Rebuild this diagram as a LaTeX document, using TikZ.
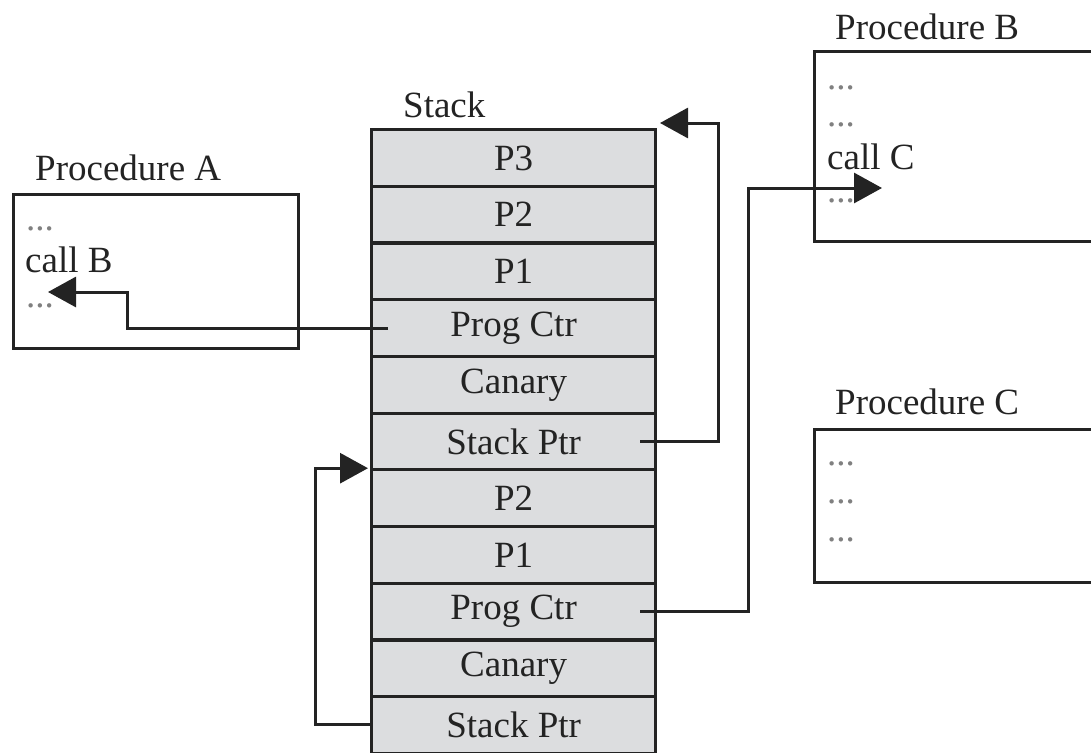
\documentclass[tikz,border=0pt]{standalone}
\usepackage{fontspec}
\newfontfamily\figserif{Liberation Serif}
\usetikzlibrary{arrows.meta,calc}
\definecolor{stackgray}{RGB}{220,221,223}
\definecolor{ink}{RGB}{35,35,35}
\begin{document}
\begin{tikzpicture}[x=1pt,y=-1pt,
  every node/.style={font=\figserif\fontsize{37}{41}\selectfont, text=ink, inner sep=0pt},
  cell/.style={draw=ink, line width=3.2pt, fill=stackgray, minimum width=284pt, minimum height=56.7pt, anchor=north west},
  procbox/.style={draw=ink, line width=3.2pt, fill=white, anchor=north west},
  lbl/.style={anchor=west},
  dots/.style={anchor=west, text=gray},
  arr/.style={draw=ink, line width=3pt, -{Triangle[length=28pt,width=30pt]}}
]
\useasboundingbox (0,0) rectangle (1091,752);
\clip (0,0) rectangle (1091,752);
% stack
\node[lbl] (stacklbl) at (403,105) {Stack};
\foreach \i/\t in {1/P3,2/P2,3/P1,4/Prog Ctr,5/Canary,6/Stack Ptr,7/P2,8/P1,9/Prog Ctr,10/Canary,11/Stack Ptr}{
  \node[cell] (r\i) at (370,{128+(\i-1)*56.7}) {\t};
}
% procedure A
\node[lbl] (plA) at (35,168) {Procedure A};
\node[procbox, minimum width=285pt, minimum height=154pt] (procA) at (12,193) {};
\node[dots] (a1) at (26,229) {...};
\node[lbl] (a2) at (25,260) {call B};
\node[dots] (a3) at (26,306) {...};
% procedure B
\node[lbl] (plB) at (835,27) {Procedure B};
\node[procbox, minimum width=300pt, minimum height=190pt] (procB) at (813,50) {};
\node[dots] (b1) at (827,88) {...};
\node[dots] (b2) at (827,125) {...};
\node[lbl] (b3) at (827,157) {call C};
\node[dots] (b4) at (827,201) {...};
% procedure C
\node[lbl] (plC) at (835,402) {Procedure C};
\node[procbox, minimum width=300pt, minimum height=153pt] (procC) at (813,428) {};
\node[dots] (c1) at (827,464) {...};
\node[dots] (c2) at (827,502) {...};
\node[dots] (c3) at (827,540) {...};
% connectors
\coordinate (s4) at ($(r4.west)+(18,0)$);
\coordinate (aret) at (48,292);
\draw[arr] (s4) -| ($(aret)+(79,0)$) -- (aret);
\coordinate (s6) at ($(r6.east)+(-17,0)$);
\coordinate (toptip) at (660,123);
\draw[arr] (s6) -| ($(toptip)+(58,0)$) -- (toptip);
\coordinate (s9) at ($(r9.east)+(-17,0)$);
\coordinate (btip) at (882,188);
\draw[arr] (s9) -| ($(btip)+(-134,0)$) -- (btip);
\coordinate (s11) at (r11.west);
\coordinate (midtip) at ($(r7.north west)+(-2,0)$);
\draw[arr] (s11) -| ($(midtip)+(-53,0)$) -- (midtip);
\end{tikzpicture}
\end{document}
